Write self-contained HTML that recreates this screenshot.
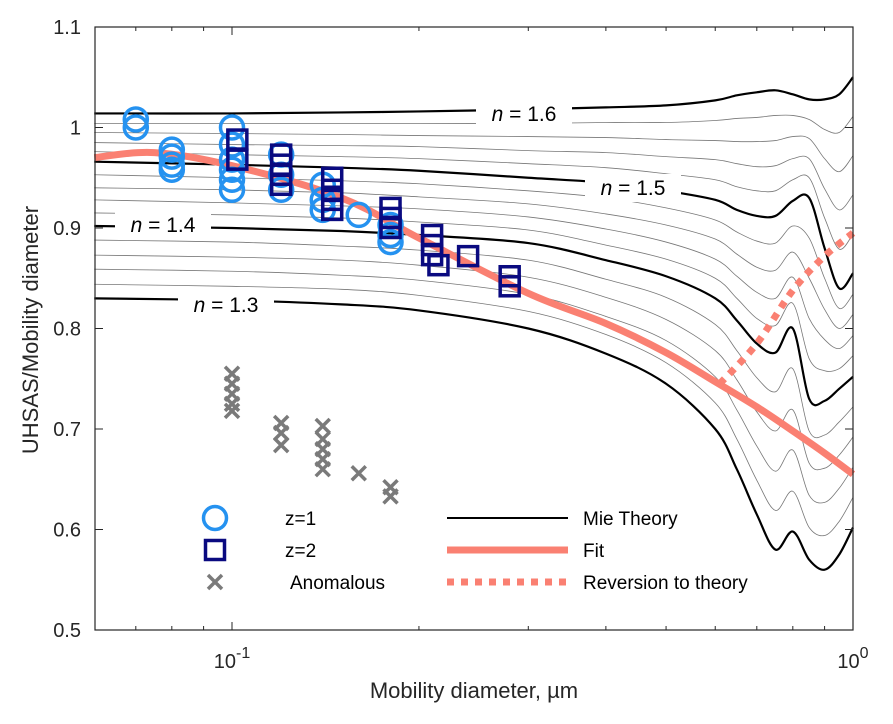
<!DOCTYPE html>
<html><head><meta charset="utf-8"><style>
body{margin:0;background:#fff}
svg{display:block;font-family:"Liberation Sans",Arial,sans-serif}
</style></head><body>
<svg id="chart" width="893" height="724" viewBox="0 0 893 724">
<g id="grid"></g><g id="series"></g><g id="axes"></g><g id="legend"></g>
</svg>
<script>
// ---- data ----
const mieX = [0.06,0.1,0.15,0.2,0.3,0.4,0.5,0.6,0.65,0.7,0.75,0.8,0.85,0.9,0.95,1.0];
const mieN = [1.30,1.32,1.34,1.36,1.38,1.40,1.42,1.44,1.46,1.48,1.50,1.52,1.54,1.56,1.58,1.60];
const mie130 = [.830,.828,.824,.818,.800,.775,.745,.700,.660,.615,.580,.598,.570,.560,.575,.602];
const mie132 = [.844,.842,.839,.833,.817,.794,.766,.726,.690,.649,.619,.638,.602,.594,.608,.632];
const mie134 = [.859,.857,.853,.848,.834,.812,.788,.752,.719,.683,.658,.679,.634,.627,.641,.662];
const mie136 = [.873,.871,.868,.863,.851,.831,.809,.778,.749,.717,.698,.719,.666,.661,.674,.692];
const mie138 = [.888,.886,.882,.878,.868,.849,.831,.804,.778,.751,.737,.760,.698,.694,.707,.722];
const mie140 = [.902,.900,.897,.893,.885,.868,.852,.830,.808,.785,.776,.800,.730,.728,.740,.752];
const mie142 = [.915,.913,.910,.906,.898,.883,.869,.850,.830,.810,.803,.825,.770,.758,.760,.773];
const mie144 = [.928,.925,.922,.919,.911,.899,.886,.869,.852,.836,.830,.851,.810,.789,.780,.793];
const mie146 = [.940,.938,.935,.931,.924,.914,.903,.889,.874,.861,.858,.876,.850,.819,.800,.814];
const mie148 = [.953,.950,.947,.944,.937,.930,.920,.908,.896,.887,.885,.902,.890,.850,.820,.834];
const mie150 = [.966,.963,.960,.957,.950,.945,.937,.928,.918,.912,.912,.927,.930,.880,.840,.855];
const mie152 = [.976,.973,.971,.969,.964,.960,.954,.948,.941,.937,.937,.948,.950,.910,.879,.894];
const mie154 = [.985,.983,.982,.981,.977,.975,.971,.968,.964,.961,.962,.969,.969,.939,.918,.933];
const mie156 = [.995,.994,.993,.992,.991,.990,.988,.987,.986,.986,.987,.991,.989,.969,.956,.972];
const mie158 = [1.004,1.004,1.004,1.004,1.004,1.005,1.005,1.007,1.009,1.010,1.012,1.012,1.008,.998,.995,1.011];
const mie160 = [1.014,1.014,1.015,1.016,1.018,1.020,1.022,1.027,1.032,1.035,1.037,1.033,1.028,1.028,1.033,1.050];
const mieCurves = [mie130,mie132,mie134,mie136,mie138,mie140,mie142,mie144,mie146,mie148,mie150,mie152,mie154,mie156,mie158,mie160];

const fitX = [0.06,0.075,0.1,0.15,0.2,0.3,0.4,0.5,0.6,0.7,0.8,0.9,1.0];
const fitY = [.970,.975,.962,.930,.890,.835,.805,.776,.747,.722,.698,.676,.655];
const revX = [0.61,0.7,0.8,0.9,1.0];
const revY = [.745,.785,.838,.872,.895];

const z1X = [0.07,0.07,0.08,0.08,0.08,0.08,0.1,0.1,0.1,0.1,0.1,0.1,0.12,0.12,0.12,0.14,0.14,0.14,0.16,0.18,0.18,0.18];
const z1Y = [1.008,1.0,.978,.971,.963,.958,1.0,.983,.968,.958,.948,.938,.973,.953,.938,.943,.928,.918,.913,.903,.893,.886];
const z2X = [0.102,0.102,0.12,0.12,0.12,0.12,0.145,0.145,0.145,0.145,0.18,0.18,0.18,0.21,0.21,0.21,0.215,0.24,0.28,0.28];
const z2Y = [.988,.968,.973,.963,.953,.943,.950,.938,.928,.918,.920,.910,.900,.893,.883,.873,.863,.872,.852,.842];
const anX = [0.1,0.1,0.1,0.1,0.1,0.12,0.12,0.12,0.14,0.14,0.14,0.14,0.14,0.16,0.18,0.18];
const anY = [.755,.745,.735,.725,.718,.706,.696,.684,.703,.690,.680,.670,.660,.656,.642,.633];

const yTicks = [0.5,0.6,0.7,0.8,0.9,1,1.1];
const yTickLabels = ["0.5","0.6","0.7","0.8","0.9","1","1.1"];

// ---- scales ----
const L=95,R=853,T=27,B=630;
const xs = d => 232 + 621*Math.log10(d/0.1);
const ys = v => B - (v-0.5)/0.6*(B-T);
const NS="http://www.w3.org/2000/svg";
function mk(tag,attrs,parent){const e=document.createElementNS(NS,tag);for(const k in attrs)e.setAttribute(k,attrs[k]);parent.appendChild(e);return e;}
function smooth(px,py){
  let d=`M${px[0]},${py[0]}`;
  for(let i=0;i<px.length-1;i++){
    const x0=px[Math.max(i-1,0)],y0=py[Math.max(i-1,0)],x1=px[i],y1=py[i],x2=px[i+1],y2=py[i+1],x3=px[Math.min(i+2,px.length-1)],y3=py[Math.min(i+2,px.length-1)];
    d+=` C${x1+(x2-x0)/6},${y1+(y2-y0)/6} ${x2-(x3-x1)/6},${y2-(y3-y1)/6} ${x2},${y2}`;
  }
  return d;
}
const series=document.getElementById('series');
mieCurves.forEach((c,i)=>{
  const bold = i%5===0;
  const p=mk('path',{d:smooth(mieX.map(xs),c.map(ys)),fill:'none',stroke:bold?'#000':'#777','stroke-width':bold?2.2:0.8},series);
  
  
});
const labs=[["1.6",524,114],["1.5",633,188],["1.4",163,225],["1.3",226,305]];
labs.forEach(l=>{
  const g=mk('g',{},series);
  
  
  mk('rect',{x:l[1]-48,y:l[2]-14,width:96,height:28,fill:'#fff'},g);
  const t=mk('text',{x:l[1],y:l[2]+7,'text-anchor':'middle','font-size':21,fill:'#000'},g);
  t.innerHTML='<tspan font-style="italic">n</tspan> = '+l[0];
});
const fit=mk('path',{d:smooth(fitX.map(xs),fitY.map(ys)),fill:'none',stroke:'#fa8072','stroke-width':7},series);


const rev=mk('path',{d:smooth(revX.map(xs),revY.map(ys)),fill:'none',stroke:'#fa8072','stroke-width':7,'stroke-dasharray':'7 7'},series);


function circle(cx,cy,p){return mk('circle',{cx,cy,r:11.5,fill:'none',stroke:'#2592f0','stroke-width':3.5},p);}
function square(cx,cy,p){return mk('rect',{x:cx-9.5,y:cy-9.5,width:19,height:19,fill:'none',stroke:'#0a0a80','stroke-width':3.5},p);}
function cross(cx,cy,p){return mk('path',{d:`M${cx-7},${cy-7}L${cx+7},${cy+7}M${cx+7},${cy-7}L${cx-7},${cy+7}`,stroke:'#7a7a7a','stroke-width':3.5},p);}
z1X.forEach((d,i)=>{const e=circle(xs(d),ys(z1Y[i]),series);
  
  });
z2X.forEach((d,i)=>{const e=square(xs(d),ys(z2Y[i]),series);
  
  });
anX.forEach((d,i)=>{const e=cross(xs(d),ys(anY[i]),series);
  
  });
const ax=document.getElementById('axes');
mk('rect',{x:L,y:T,width:R-L,height:B-T,fill:'none',stroke:'#262626','stroke-width':1.2},ax);
yTicks.forEach((v,i)=>{
  const y=ys(v);
  mk('line',{x1:L,x2:L+8,y1:y,y2:y,stroke:'#262626'},ax);
  mk('line',{x1:R,x2:R-8,y1:y,y2:y,stroke:'#262626'},ax);
  const t=mk('text',{x:81,y:y+7,'text-anchor':'end','font-size':20,fill:'#262626'},ax);
  t.textContent=yTickLabels[i];
  
  
});
[0.07,0.08,0.09,0.1,0.2,0.3,0.4,0.5,0.6,0.7,0.8,0.9].forEach(d=>{
  const x=xs(d),len=(d===0.1)?8:4;
  mk('line',{x1:x,x2:x,y1:B,y2:B-len,stroke:'#262626'},ax);
  mk('line',{x1:x,x2:x,y1:T,y2:T+len,stroke:'#262626'},ax);
});
[[232,"-1"],[853,"0"]].forEach(l=>{
  const t=mk('text',{x:l[0],y:668,'text-anchor':'middle','font-size':20,fill:'#262626'},ax);
  t.innerHTML='10<tspan dy="-10" font-size="16">'+l[1]+'</tspan>';
  
  
});
const xt=mk('text',{x:474,y:698,'text-anchor':'middle','font-size':22,fill:'#262626'},ax);
xt.textContent='Mobility diameter, µm';


const yt=mk('text',{x:0,y:0,'text-anchor':'middle','font-size':22,fill:'#262626',transform:'translate(38,330) rotate(-90)'},ax);
yt.textContent='UHSAS/Mobility diameter';


const lg=document.getElementById('legend');
const ents=[['z=1',285,518,'c'],['z=2',285,550,'s'],['Anomalous',290,582,'x'],['Mie Theory',583,518,'m'],['Fit',583,550,'f'],['Reversion to theory',583,582,'r']];
ents.forEach(e=>{
  const g=mk('g',{},lg);
  
  
  const y=e[2];
  if(e[3]==='c')circle(215,y,g);
  if(e[3]==='s')square(215,y,g);
  if(e[3]==='x')cross(215,y,g);
  if(e[3]==='m')mk('line',{x1:447,x2:568,y1:y,y2:y,stroke:'#000','stroke-width':2},g);
  if(e[3]==='f')mk('line',{x1:447,x2:568,y1:y,y2:y,stroke:'#fa8072','stroke-width':7},g);
  if(e[3]==='r')mk('line',{x1:447,x2:568,y1:y,y2:y,stroke:'#fa8072','stroke-width':7,'stroke-dasharray':'7 7'},g);
  const t=mk('text',{x:e[1],y:y+7,'font-size':19,fill:'#000'},g);
  t.textContent=e[0];
});
</script>
</body></html>
